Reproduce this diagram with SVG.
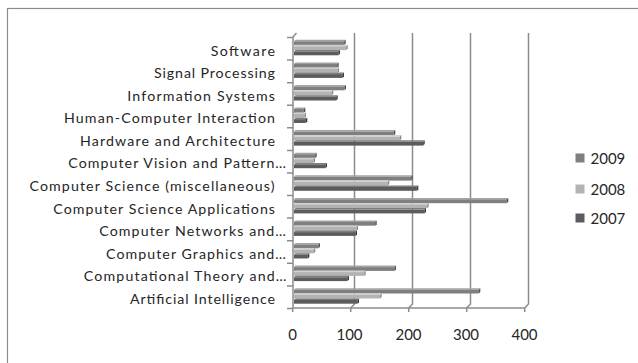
<svg xmlns="http://www.w3.org/2000/svg" width="638" height="363" viewBox="0 0 638 363">
<style>
text{font-family:Lato,"Liberation Sans",sans-serif;font-size:15px;fill:#262626}
.cat{text-anchor:end;font-size:14.2px}
.ax{text-anchor:middle}
.grid{stroke:#8c8c8c;stroke-width:1.5;fill:none}
.b9 .f{fill:#7f7f7f}.b9 .t{fill:#a3a3a3}.b9 .s{fill:#505050}
.b8 .f{fill:#b3b3b3}.b8 .t{fill:#d0d0d0}.b8 .s{fill:#8a8a8a}
.b7 .f{fill:#5c5c5c}.b7 .t{fill:#7e7e7e}.b7 .s{fill:#383838}
</style>
<rect x="0" y="0" width="638" height="363" fill="#fff"/>
<rect x="7.5" y="8.5" width="700" height="400" fill="none" stroke="#8c8c8c" stroke-width="1.2"/>

<g id="gridlines" class="grid">
<path d="M354.5,33V304L350.7,308M412.5,33V304L408.7,308M470.5,33V304L466.7,308M528.5,33V304L524.7,308"/>
<path d="M296.5,33L293,37V308H524.7"/>
<path d="M292.7,308v4M350.7,308v4M408.7,308v4M466.7,308v4M524.7,308v4"/>
<path d="M287,37.5h6M287,60.1h6M287,82.7h6M287,105.2h6M287,127.8h6M287,150.4h6M287,173h6M287,195.6h6M287,218.1h6M287,240.7h6M287,263.3h6M287,285.9h6M287,308.5h6"/>
</g>

<g id="bars">
<g class="b9" transform="translate(0,41.3)"><polygon class="t" points="294,0 344.2,0 345.7,-1.5 295.5,-1.5"/><rect class="f" x="294" y="0" width="50.2" height="3.8"/><polygon class="s" points="344.2,0 345.7,-1.5 345.7,2.3 344.2,3.8"/></g>
<g class="b8" transform="translate(0,46.3)"><polygon class="t" points="294,0 346.2,0 347.7,-1.5 295.5,-1.5"/><rect class="f" x="294" y="0" width="52.2" height="3.8"/><polygon class="s" points="346.2,0 347.7,-1.5 347.7,2.3 346.2,3.8"/></g>
<g class="b7" transform="translate(0,51.5)"><polygon class="t" points="294,0 338.5,0 340,-1.5 295.5,-1.5"/><rect class="f" x="294" y="0" width="44.5" height="3.8"/><polygon class="s" points="338.5,0 340,-1.5 340,2.3 338.5,3.8"/></g>

<g class="b9" transform="translate(0,63.9)"><polygon class="t" points="294,0 337.2,0 338.7,-1.5 295.5,-1.5"/><rect class="f" x="294" y="0" width="43.2" height="3.8"/><polygon class="s" points="337.2,0 338.7,-1.5 338.7,2.3 337.2,3.8"/></g>
<g class="b8" transform="translate(0,68.9)"><polygon class="t" points="294,0 337.5,0 339,-1.5 295.5,-1.5"/><rect class="f" x="294" y="0" width="43.5" height="3.8"/><polygon class="s" points="337.5,0 339,-1.5 339,2.3 337.5,3.8"/></g>
<g class="b7" transform="translate(0,74.1)"><polygon class="t" points="294,0 342.5,0 344,-1.5 295.5,-1.5"/><rect class="f" x="294" y="0" width="48.5" height="3.8"/><polygon class="s" points="342.5,0 344,-1.5 344,2.3 342.5,3.8"/></g>

<g class="b9" transform="translate(0,86.5)"><polygon class="t" points="294,0 344.5,0 346,-1.5 295.5,-1.5"/><rect class="f" x="294" y="0" width="50.5" height="3.8"/><polygon class="s" points="344.5,0 346,-1.5 346,2.3 344.5,3.8"/></g>
<g class="b8" transform="translate(0,91.5)"><polygon class="t" points="294,0 331.8,0 333.3,-1.5 295.5,-1.5"/><rect class="f" x="294" y="0" width="37.8" height="3.8"/><polygon class="s" points="331.8,0 333.3,-1.5 333.3,2.3 331.8,3.8"/></g>
<g class="b7" transform="translate(0,96.7)"><polygon class="t" points="294,0 336.2,0 337.7,-1.5 295.5,-1.5"/><rect class="f" x="294" y="0" width="42.2" height="3.8"/><polygon class="s" points="336.2,0 337.7,-1.5 337.7,2.3 336.2,3.8"/></g>

<g class="b9" transform="translate(0,109)"><polygon class="t" points="294,0 303.8,0 305.3,-1.5 295.5,-1.5"/><rect class="f" x="294" y="0" width="9.8" height="3.8"/><polygon class="s" points="303.8,0 305.3,-1.5 305.3,2.3 303.8,3.8"/></g>
<g class="b8" transform="translate(0,114)"><polygon class="t" points="294,0 304.5,0 306,-1.5 295.5,-1.5"/><rect class="f" x="294" y="0" width="10.5" height="3.8"/><polygon class="s" points="304.5,0 306,-1.5 306,2.3 304.5,3.8"/></g>
<g class="b7" transform="translate(0,119.2)"><polygon class="t" points="294,0 305.8,0 307.3,-1.5 295.5,-1.5"/><rect class="f" x="294" y="0" width="11.8" height="3.8"/><polygon class="s" points="305.8,0 307.3,-1.5 307.3,2.3 305.8,3.8"/></g>

<g class="b9" transform="translate(0,131.6)"><polygon class="t" points="294,0 393.8,0 395.3,-1.5 295.5,-1.5"/><rect class="f" x="294" y="0" width="99.8" height="3.8"/><polygon class="s" points="393.8,0 395.3,-1.5 395.3,2.3 393.8,3.8"/></g>
<g class="b8" transform="translate(0,136.6)"><polygon class="t" points="294,0 399.8,0 401.3,-1.5 295.5,-1.5"/><rect class="f" x="294" y="0" width="105.8" height="3.8"/><polygon class="s" points="399.8,0 401.3,-1.5 401.3,2.3 399.8,3.8"/></g>
<g class="b7" transform="translate(0,141.8)"><polygon class="t" points="294,0 423.2,0 424.7,-1.5 295.5,-1.5"/><rect class="f" x="294" y="0" width="129.2" height="3.8"/><polygon class="s" points="423.2,0 424.7,-1.5 424.7,2.3 423.2,3.8"/></g>

<g class="b9" transform="translate(0,154.2)"><polygon class="t" points="294,0 315.2,0 316.7,-1.5 295.5,-1.5"/><rect class="f" x="294" y="0" width="21.2" height="3.8"/><polygon class="s" points="315.2,0 316.7,-1.5 316.7,2.3 315.2,3.8"/></g>
<g class="b8" transform="translate(0,159.2)"><polygon class="t" points="294,0 313.5,0 315,-1.5 295.5,-1.5"/><rect class="f" x="294" y="0" width="19.5" height="3.8"/><polygon class="s" points="313.5,0 315,-1.5 315,2.3 313.5,3.8"/></g>
<g class="b7" transform="translate(0,164.4)"><polygon class="t" points="294,0 325.5,0 327,-1.5 295.5,-1.5"/><rect class="f" x="294" y="0" width="31.5" height="3.8"/><polygon class="s" points="325.5,0 327,-1.5 327,2.3 325.5,3.8"/></g>

<g class="b9" transform="translate(0,176.8)"><polygon class="t" points="294,0 411.2,0 412.7,-1.5 295.5,-1.5"/><rect class="f" x="294" y="0" width="117.2" height="3.8"/><polygon class="s" points="411.2,0 412.7,-1.5 412.7,2.3 411.2,3.8"/></g>
<g class="b8" transform="translate(0,181.8)"><polygon class="t" points="294,0 387.8,0 389.3,-1.5 295.5,-1.5"/><rect class="f" x="294" y="0" width="93.8" height="3.8"/><polygon class="s" points="387.8,0 389.3,-1.5 389.3,2.3 387.8,3.8"/></g>
<g class="b7" transform="translate(0,187)"><polygon class="t" points="294,0 416.8,0 418.3,-1.5 295.5,-1.5"/><rect class="f" x="294" y="0" width="122.8" height="3.8"/><polygon class="s" points="416.8,0 418.3,-1.5 418.3,2.3 416.8,3.8"/></g>

<g class="b9" transform="translate(0,199.4)"><polygon class="t" points="294,0 506.8,0 508.3,-1.5 295.5,-1.5"/><rect class="f" x="294" y="0" width="212.8" height="3.8"/><polygon class="s" points="506.8,0 508.3,-1.5 508.3,2.3 506.8,3.8"/></g>
<g class="b8" transform="translate(0,204.4)"><polygon class="t" points="294,0 427.2,0 428.7,-1.5 295.5,-1.5"/><rect class="f" x="294" y="0" width="133.2" height="3.8"/><polygon class="s" points="427.2,0 428.7,-1.5 428.7,2.3 427.2,3.8"/></g>
<g class="b7" transform="translate(0,209.6)"><polygon class="t" points="294,0 424.5,0 426,-1.5 295.5,-1.5"/><rect class="f" x="294" y="0" width="130.5" height="3.8"/><polygon class="s" points="424.5,0 426,-1.5 426,2.3 424.5,3.8"/></g>

<g class="b9" transform="translate(0,221.9)"><polygon class="t" points="294,0 375.2,0 376.7,-1.5 295.5,-1.5"/><rect class="f" x="294" y="0" width="81.2" height="3.8"/><polygon class="s" points="375.2,0 376.7,-1.5 376.7,2.3 375.2,3.8"/></g>
<g class="b8" transform="translate(0,226.9)"><polygon class="t" points="294,0 356.5,0 358,-1.5 295.5,-1.5"/><rect class="f" x="294" y="0" width="62.5" height="3.8"/><polygon class="s" points="356.5,0 358,-1.5 358,2.3 356.5,3.8"/></g>
<g class="b7" transform="translate(0,232.1)"><polygon class="t" points="294,0 355.5,0 357,-1.5 295.5,-1.5"/><rect class="f" x="294" y="0" width="61.5" height="3.8"/><polygon class="s" points="355.5,0 357,-1.5 357,2.3 355.5,3.8"/></g>

<g class="b9" transform="translate(0,244.5)"><polygon class="t" points="294,0 318.5,0 320,-1.5 295.5,-1.5"/><rect class="f" x="294" y="0" width="24.5" height="3.8"/><polygon class="s" points="318.5,0 320,-1.5 320,2.3 318.5,3.8"/></g>
<g class="b8" transform="translate(0,249.5)"><polygon class="t" points="294,0 313.8,0 315.3,-1.5 295.5,-1.5"/><rect class="f" x="294" y="0" width="19.8" height="3.8"/><polygon class="s" points="313.8,0 315.3,-1.5 315.3,2.3 313.8,3.8"/></g>
<g class="b7" transform="translate(0,254.7)"><polygon class="t" points="294,0 307.8,0 309.3,-1.5 295.5,-1.5"/><rect class="f" x="294" y="0" width="13.8" height="3.8"/><polygon class="s" points="307.8,0 309.3,-1.5 309.3,2.3 307.8,3.8"/></g>

<g class="b9" transform="translate(0,267.1)"><polygon class="t" points="294,0 394.5,0 396,-1.5 295.5,-1.5"/><rect class="f" x="294" y="0" width="100.5" height="3.8"/><polygon class="s" points="394.5,0 396,-1.5 396,2.3 394.5,3.8"/></g>
<g class="b8" transform="translate(0,272.1)"><polygon class="t" points="294,0 364.2,0 365.7,-1.5 295.5,-1.5"/><rect class="f" x="294" y="0" width="70.2" height="3.8"/><polygon class="s" points="364.2,0 365.7,-1.5 365.7,2.3 364.2,3.8"/></g>
<g class="b7" transform="translate(0,277.3)"><polygon class="t" points="294,0 347.5,0 349,-1.5 295.5,-1.5"/><rect class="f" x="294" y="0" width="53.5" height="3.8"/><polygon class="s" points="347.5,0 349,-1.5 349,2.3 347.5,3.8"/></g>

<g class="b9" transform="translate(0,289.7)"><polygon class="t" points="294,0 478.8,0 480.3,-1.5 295.5,-1.5"/><rect class="f" x="294" y="0" width="184.8" height="3.8"/><polygon class="s" points="478.8,0 480.3,-1.5 480.3,2.3 478.8,3.8"/></g>
<g class="b8" transform="translate(0,294.7)"><polygon class="t" points="294,0 380.2,0 381.7,-1.5 295.5,-1.5"/><rect class="f" x="294" y="0" width="86.2" height="3.8"/><polygon class="s" points="380.2,0 381.7,-1.5 381.7,2.3 380.2,3.8"/></g>
<g class="b7" transform="translate(0,299.9)"><polygon class="t" points="294,0 357.5,0 359,-1.5 295.5,-1.5"/><rect class="f" x="294" y="0" width="63.5" height="3.8"/><polygon class="s" points="357.5,0 359,-1.5 359,2.3 357.5,3.8"/></g>
</g>

<g id="category-labels">
<text class="cat" x="275" y="55.5" textLength="64.3">Software</text>
<text class="cat" x="275" y="78.1" textLength="121">Signal Processing</text>
<text class="cat" x="275" y="100.7" textLength="147.7">Information Systems</text>
<text class="cat" x="275" y="123.2" textLength="211">Human-Computer Interaction</text>
<text class="cat" x="275" y="145.8" textLength="195">Hardware and Architecture</text>
<text class="cat" x="286" y="168.4" textLength="217.7">Computer Vision and Pattern…</text>
<text class="cat" x="274.5" y="191" textLength="245">Computer Science (miscellaneous)</text>
<text class="cat" x="275" y="213.6" textLength="221.7">Computer Science Applications</text>
<text class="cat" x="286" y="236.1" textLength="186.7">Computer Networks and…</text>
<text class="cat" x="286" y="258.7" textLength="180">Computer Graphics and…</text>
<text class="cat" x="286.5" y="281.3" textLength="202.7">Computational Theory and…</text>
<text class="cat" x="275" y="303.9" textLength="145">Artificial Intelligence</text>
</g>

<g id="value-axis">
<text class="ax" x="292.5" y="340">0</text>
<text class="ax" x="349.5" y="340">100</text>
<text class="ax" x="408.5" y="340">200</text>
<text class="ax" x="466" y="340">300</text>
<text class="ax" x="524.5" y="340">400</text>
</g>

<g id="legend">
<rect x="575.5" y="153.5" width="9" height="9" fill="#7f7f7f"/>
<text x="590.5" y="163.5">2009</text>
<rect x="575.5" y="184.5" width="9" height="9" fill="#b3b3b3"/>
<text x="590.5" y="194.5">2008</text>
<rect x="575.5" y="213.5" width="9" height="9" fill="#5c5c5c"/>
<text x="590.5" y="223.5">2007</text>
</g>
</svg>
